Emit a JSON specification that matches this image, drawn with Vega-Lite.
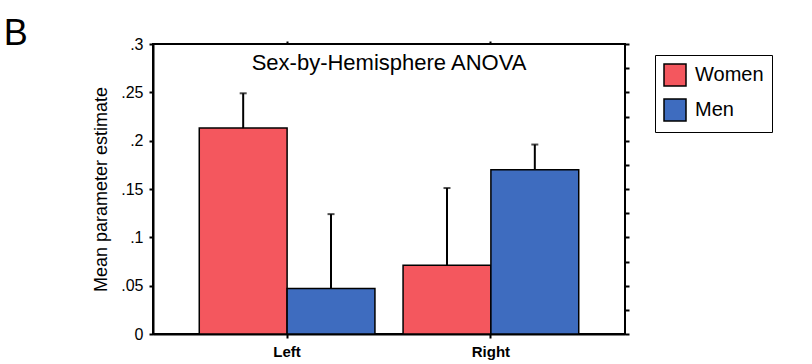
{
  "$schema": "https://vega.github.io/schema/vega-lite/v6.json",
  "autosize": "none",
  "width": 472,
  "height": 290,
  "padding": {"left": 153, "top": 44, "right": 187, "bottom": 30},
  "background": "white",
  "title": {"text": "B", "anchor": "start", "frame": "bounds", "fontSize": 36, "fontWeight": "normal", "font": "Liberation Sans", "baseline": "alphabetic", "offset": 0, "dx": -89, "dy": 45, "color": "black"},
  "config": {
    "font": "Liberation Sans",
    "view": {"stroke": "black", "strokeWidth": 2},
    "axis": {"grid": false, "domainColor": "black", "domainWidth": 2, "tickColor": "black", "tickWidth": 2, "labelColor": "black", "titleColor": "black"}
  },
  "data": {"values": [
    {"Hemisphere": "Left", "Sex": "Women", "Mean": 0.213, "Upper": 0.249},
    {"Hemisphere": "Left", "Sex": "Men", "Mean": 0.047, "Upper": 0.124},
    {"Hemisphere": "Right", "Sex": "Women", "Mean": 0.071, "Upper": 0.151},
    {"Hemisphere": "Right", "Sex": "Men", "Mean": 0.170, "Upper": 0.196}
  ]},
  "resolve": {"axis": {"x": "independent", "y": "independent"}},
  "layer": [
    {
      "mark": {"type": "bar", "stroke": "black", "strokeWidth": 1.5},
      "encoding": {
        "x": {"field": "Hemisphere", "type": "nominal", "sort": ["Left", "Right"],
              "scale": {"paddingInner": 0.138, "paddingOuter": 0.227},
              "axis": {"orient": "bottom", "title": null, "labelAngle": 0, "labelFontSize": 15, "labelFontWeight": "bold", "tickSize": 4, "labelPadding": 6}},
        "xOffset": {"field": "Sex", "type": "nominal", "sort": ["Women", "Men"], "scale": {"paddingInner": 0, "paddingOuter": 0}},
        "y": {"field": "Mean", "type": "quantitative", "scale": {"domain": [0, 0.3]},
              "axis": {"orient": "left", "title": "Mean parameter estimate", "titleFontSize": 18, "titleFontWeight": "normal", "titlePadding": 10,
                       "values": [0, 0.05, 0.1, 0.15, 0.2, 0.25, 0.3], "labelFontSize": 16, "tickSize": 4, "labelPadding": 6,
                       "labelExpr": "datum.value == 0 ? '0' : slice(format(datum.value, '.2~f'), 1)"}},
        "color": {"field": "Sex", "type": "nominal", "sort": ["Women", "Men"],
                  "scale": {"domain": ["Women", "Men"], "range": ["#f4575e", "#3e6cbf"]},
                  "legend": {"orient": "none", "legendX": 502, "legendY": 11, "title": null, "symbolType": "square", "symbolSize": 484,
                             "symbolStrokeColor": "black", "symbolStrokeWidth": 1.5, "labelFontSize": 20, "labelColor": "black",
                             "rowPadding": 7, "labelOffset": 8, "padding": 8, "strokeColor": "black", "fillColor": "white",
                             "labelExpr": "datum.label + '\u2003'"}}
      }
    },
    {
      "mark": {"type": "rule", "stroke": "black", "strokeWidth": 2},
      "encoding": {
        "x": {"field": "Hemisphere", "type": "nominal", "sort": ["Left", "Right"],
              "axis": {"orient": "top", "title": null, "labels": false, "tickSize": 3, "domain": false}},
        "xOffset": {"field": "Sex", "type": "nominal", "sort": ["Women", "Men"]},
        "y": {"field": "Mean", "type": "quantitative",
              "axis": {"orient": "right", "title": null, "labels": false, "domain": false,
                       "values": [0, 0.025, 0.05, 0.075, 0.1, 0.125, 0.15, 0.175, 0.2, 0.225, 0.25, 0.275, 0.3],
                       "tickSize": 4}},
        "y2": {"field": "Upper"}
      }
    },
    {
      "mark": {"type": "tick", "color": "black", "thickness": 2, "size": 7},
      "encoding": {
        "x": {"field": "Hemisphere", "type": "nominal", "sort": ["Left", "Right"], "axis": null},
        "xOffset": {"field": "Sex", "type": "nominal", "sort": ["Women", "Men"]},
        "y": {"field": "Upper", "type": "quantitative", "axis": null}
      }
    },
    {
      "data": {"values": [{"label": "Sex-by-Hemisphere ANOVA"}]},
      "mark": {"type": "text", "fontSize": 22, "baseline": "alphabetic", "align": "center", "color": "black"},
      "encoding": {
        "y": {"datum": 0.273, "type": "quantitative", "axis": null},
        "text": {"field": "label"}
      }
    }
  ]
}
